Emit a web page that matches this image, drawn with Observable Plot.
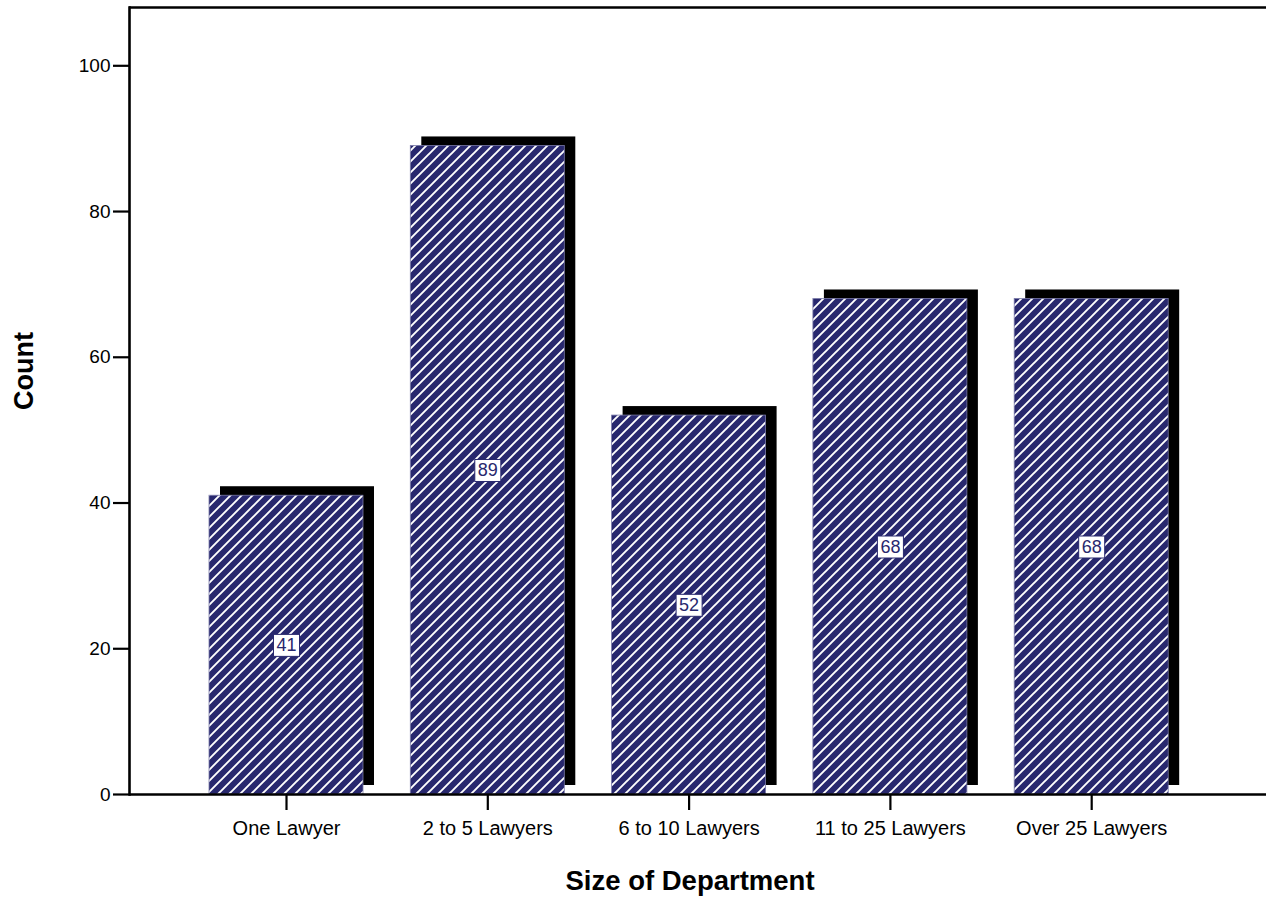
<!DOCTYPE html>
<html>
<head>
<meta charset="utf-8">
<script src="https://cdn.jsdelivr.net/npm/d3@7"></script>
<script src="https://cdn.jsdelivr.net/npm/@observablehq/plot@0.6"></script>
<style>
  html, body { margin: 0; padding: 0; background: #fff; }
  #chart { width: 1266px; height: 908px; }
</style>
</head>
<body>
<div id="chart"></div>
<script>
const categories = ["One Lawyer", "2 to 5 Lawyers", "6 to 10 Lawyers", "11 to 25 Lawyers", "Over 25 Lawyers"];
const counts = [41, 89, 52, 68, 68];
const yTicks = [0, 20, 40, 60, 80, 100];
const yMax = 108;
const xTitle = "Size of Department";
const yTitle = "Count";

const data = categories.map((c, i) => ({category: c, count: counts[i]}));

const navy = "#28286e";
const font = "'Liberation Sans', Arial, Helvetica, sans-serif";

const chart = Plot.plot({
  width: 1266,
  height: 908,
  marginLeft: 129,
  marginRight: 0,
  marginTop: 7,
  marginBottom: 114,
  style: {fontFamily: font, fontSize: "19px", color: "#000", background: "#fff"},
  x: {domain: categories, range: [161.7, 1215.5], padding: 0.235, round: false},
  y: {domain: [0, yMax]},
  marks: [
    Plot.barY(data, {x: "category", y: "count", fill: "#000", dx: 11, dy: -9}),
    Plot.barY(data, {x: "category", y: "count", fill: "url(#hatch)", stroke: "#7a7aa8", strokeWidth: 0.8}),
    Plot.text(data, {x: "category", y: d => d.count / 2, text: d => String(d.count), fill: navy, fontSize: 18}),
    Plot.ruleY([0], {stroke: "#000", strokeWidth: 2.6}),
    Plot.ruleY([yMax], {stroke: "#000", strokeWidth: 2.6}),
    Plot.frame({anchor: "left", stroke: "#000", strokeWidth: 2.6}),
    Plot.axisY({ticks: yTicks, tickSize: 16, tickPadding: 3, fontSize: 19, label: null, strokeWidth: 2.2}),
    Plot.axisX({tickSize: 16, tickPadding: 10, fontSize: 20, label: null, strokeWidth: 2.2}),
    Plot.text([yTitle], {frameAnchor: "left", dx: -105, dy: 9, rotate: -90, fontWeight: "bold", fontSize: 27, fill: "#000"}),
    Plot.text([xTitle], {frameAnchor: "bottom", dx: -8, dy: 95, fontWeight: "bold", fontSize: 27.5, fill: "#000"})
  ]
});

document.getElementById("chart").appendChild(chart);

// hatch pattern definition
const ns = "http://www.w3.org/2000/svg";
const svg = d3.select(chart);
const defs = svg.insert("defs", ":first-child");
const pat = defs.append("pattern")
  .attr("id", "hatch")
  .attr("patternUnits", "userSpaceOnUse")
  .attr("width", 11).attr("height", 11);
pat.append("rect").attr("width", 11).attr("height", 11).attr("fill", navy);
pat.append("path")
  .attr("d", "M-2,13 L13,-2 M-2,2 L2,-2 M9,13 L13,9")
  .attr("stroke", "#ffffff")
  .attr("stroke-width", 1.9)
  .attr("fill", "none");

// white boxes behind value labels (first text mark = value labels)
const labelGroup = chart.querySelector('g[aria-label="text"]');
if (labelGroup) {
  labelGroup.querySelectorAll("text").forEach(function(t) {
    const b = t.getBBox();
    const r = document.createElementNS(ns, "rect");
    r.setAttribute("x", b.x - 3);
    r.setAttribute("y", b.y - 0.5);
    r.setAttribute("width", b.width + 6);
    r.setAttribute("height", b.height + 2);
    r.setAttribute("fill", "#ffffff");
    r.setAttribute("stroke", navy);
    r.setAttribute("stroke-width", 1);
    const tr = t.getAttribute("transform");
    if (tr) r.setAttribute("transform", tr);
    t.parentNode.insertBefore(r, t);
  });
}
</script>
</body>
</html>
